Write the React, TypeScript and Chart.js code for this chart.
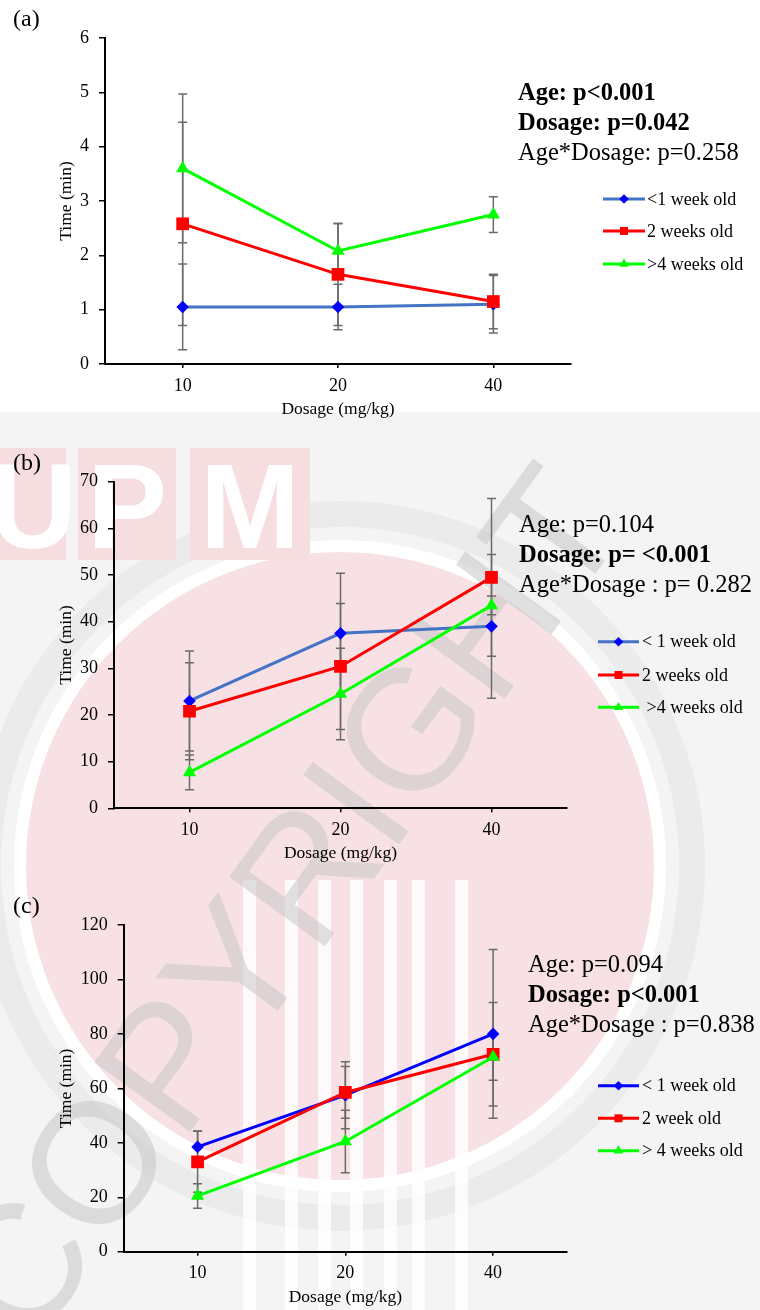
import React, { useEffect, useRef } from 'react';
import { Chart, registerables } from 'chart.js';

Chart.register(...registerables);

const FONT = "'Liberation Serif', 'Times New Roman', serif";

// ---------- data ----------
const dosageLabels = ['10', '20', '40'];

const labelsA = ['<1 week old', '2 weeks old', '>4 weeks old'];
const labelsB = ['< 1 week old', '2 weeks old', ' >4 weeks old'];
const labelsC = ['< 1 week old', '2 week old', '> 4 weeks old'];

// panel (a)
const aLt1 = [1.05, 1.05, 1.1];
const aLt1Err = [0.79, 0.42, 0.53];
const aW2 = [2.58, 1.65, 1.15];
const aW2Err = [1.87, 0.94, 0.5];
const aGt4 = [3.6, 2.08, 2.75];
const aGt4Err = [1.37, 0.5, 0.33];

// panel (b)
const bLt1 = [23, 37.5, 39];
const bLt1Err = [10.7, 12.9, 15.4];
const bW2 = [20.8, 30.4, 49.5];
const bW2Err = [10.4, 13.5, 16.9];
const bGt4 = [7.7, 24.5, 43.5];
const bGt4Err = [3.7, 9.8, 2];

// panel (c)
const cLt1 = [38.5, 57.5, 80];
const cLt1Err = [5.8, 12.3, 31];
const cW2 = [33, 58.5, 72.5];
const cW2Err = [11.2, 9.5, 19];
const cGt4 = [20.5, 40.5, 71.5];
const cGt4Err = [4.5, 11.5, 8.5];

const statsA = [
  { text: 'Age: p<0.001', bold: true },
  { text: 'Dosage: p=0.042', bold: true },
  { text: 'Age*Dosage: p=0.258', bold: false },
];
const statsB = [
  { text: 'Age: p=0.104', bold: false },
  { text: 'Dosage: p= <0.001', bold: true },
  { text: 'Age*Dosage : p= 0.282', bold: false },
];
const statsC = [
  { text: 'Age: p=0.094', bold: false },
  { text: 'Dosage: p<0.001', bold: true },
  { text: 'Age*Dosage : p=0.838', bold: false },
];

const watermarkText = 'COPYRIGHT';
const logoLetters = ['U', 'P', 'M'];

// ---------- plugins ----------
const errorBarPlugin = {
  id: 'errorBars',
  beforeDatasetsDraw(chart: any) {
    const ctx = chart.ctx;
    const yScale = chart.scales.y;
    ctx.save();
    ctx.strokeStyle = '#6b6b6b';
    ctx.lineWidth = 1.5;
    chart.data.datasets.forEach((ds: any, di: number) => {
      const meta = chart.getDatasetMeta(di);
      if (!ds.errorBars) return;
      meta.data.forEach((pt: any, i: number) => {
        const v = ds.data[i];
        const e = ds.errorBars[i];
        const x = pt.x;
        const yt = yScale.getPixelForValue(v + e);
        const yb = yScale.getPixelForValue(Math.max(0, v - e));
        ctx.beginPath();
        ctx.moveTo(x, yt);
        ctx.lineTo(x, yb);
        ctx.moveTo(x - 4.5, yt);
        ctx.lineTo(x + 4.5, yt);
        ctx.moveTo(x - 4.5, yb);
        ctx.lineTo(x + 4.5, yb);
        ctx.stroke();
      });
    });
    ctx.restore();
  },
};

function drawMarker(ctx: any, style: string, x: number, y: number, s: number, color: string) {
  ctx.fillStyle = color;
  ctx.beginPath();
  if (style === 'rect') {
    ctx.rect(x - s, y - s, 2 * s, 2 * s);
  } else if (style === 'rectRot') {
    ctx.moveTo(x, y - s * 1.2);
    ctx.lineTo(x + s * 1.2, y);
    ctx.lineTo(x, y + s * 1.2);
    ctx.lineTo(x - s * 1.2, y);
    ctx.closePath();
  } else {
    const r = s * 1.35;
    ctx.moveTo(x, y - r);
    ctx.lineTo(x + r * 0.866, y + r * 0.5);
    ctx.lineTo(x - r * 0.866, y + r * 0.5);
    ctx.closePath();
  }
  ctx.fill();
}

const legendPlugin = {
  id: 'lineLegend',
  afterDraw(chart: any, _args: any, opts: any) {
    const ctx = chart.ctx;
    ctx.save();
    ctx.font = `${opts.fontSize}px ${FONT}`;
    ctx.textBaseline = 'middle';
    ctx.textAlign = 'left';
    chart.data.datasets.forEach((ds: any, i: number) => {
      const y = opts.rows[i];
      ctx.strokeStyle = ds.borderColor;
      ctx.lineWidth = 3;
      ctx.beginPath();
      ctx.moveTo(opts.x0, y);
      ctx.lineTo(opts.x1, y);
      ctx.stroke();
      drawMarker(ctx, ds.pointStyle, (opts.x0 + opts.x1) / 2, y, 4, ds.pointBackgroundColor);
      ctx.fillStyle = '#000';
      ctx.fillText(ds.label, opts.textX, y + 1);
    });
    ctx.restore();
  },
};

// ---------- panel ----------
type PanelProps = {
  top: number;
  height: number;
  labels: string[];
  series: number[][];
  errors: number[][];
  blueLine: string;
  yMax: number;
  yStep: number;
  padTop: number;
  padBottom: number;
  left: number;
  right: number;
  legend: any;
};

function Panel(p: PanelProps) {
  const ref = useRef<HTMLCanvasElement | null>(null);
  useEffect(() => {
    if (!ref.current) return;
    const colors = [p.blueLine, '#ff0000', '#00ff00'];
    const pointColors = ['#0000ff', '#ff0000', '#00ff00'];
    const styles = ['rectRot', 'rect', 'triangle'];
    const radii = [6.3, 9, 7.6];
    const datasets = p.series.map((d, i) => ({
      label: p.labels[i],
      data: d,
      errorBars: p.errors[i],
      borderColor: colors[i],
      backgroundColor: pointColors[i],
      borderWidth: 3,
      pointStyle: styles[i],
      pointRadius: radii[i],
      pointBackgroundColor: pointColors[i],
      pointBorderColor: pointColors[i],
      pointBorderWidth: 0,
      tension: 0,
      fill: false,
      order: 2 - i,
    }));
    const tickFont = { family: FONT, size: 18 };
    const titleFont = { family: FONT, size: 17.5 };
    const chart = new Chart(ref.current, {
      type: 'line',
      data: { labels: dosageLabels, datasets },
      options: {
        animation: false,
        responsive: false,
        maintainAspectRatio: false,
        devicePixelRatio: 1,
        layout: { padding: { top: p.padTop, bottom: p.padBottom, left: 0, right: 760 - p.right } },
        plugins: {
          legend: { display: false },
          tooltip: { enabled: false },
          lineLegend: p.legend,
        } as any,
        scales: {
          x: {
            type: 'category',
            offset: true,
            grid: { display: true, drawOnChartArea: false, drawTicks: true, tickLength: 4, color: '#000', lineWidth: 1.5 },
            border: { display: true, color: '#000', width: 2 },
            ticks: { color: '#000', font: tickFont, padding: 7 },
            title: { display: true, text: 'Dosage (mg/kg)', color: '#000', font: titleFont, padding: 0 },
            afterFit: (s: any) => { s.height = 56; },
          },
          y: {
            min: 0,
            max: p.yMax,
            ticks: { stepSize: p.yStep, color: '#000', font: tickFont, padding: 10 },
            grid: { display: true, drawOnChartArea: false, drawTicks: true, tickLength: 6, color: '#000', lineWidth: 1.5 },
            border: { display: true, color: '#000', width: 2 },
            title: { display: true, text: 'Time (min)', color: '#000', font: titleFont, padding: { top: 56, bottom: 0 } },
            afterFit: (s: any) => { s.width = p.left; },
          },
        },
      } as any,
      plugins: [errorBarPlugin, legendPlugin],
    });
    return () => chart.destroy();
  }, []);
  return (
    <canvas
      ref={ref}
      width={760}
      height={p.height}
      style={{ position: 'absolute', left: 0, top: p.top, width: 760, height: p.height }}
    />
  );
}

function Stats({ lines, left, top }: { lines: { text: string; bold: boolean }[]; left: number; top: number }) {
  return (
    <div style={{ position: 'absolute', left, top, fontFamily: FONT, fontSize: 24.5, lineHeight: '30px', color: '#000', whiteSpace: 'nowrap' }}>
      {lines.map((l, i) => (
        <div key={i} style={{ fontWeight: l.bold ? 'bold' : 'normal' }}>{l.text}</div>
      ))}
    </div>
  );
}

function PanelLabel({ text, top }: { text: string; top: number }) {
  return (
    <div style={{ position: 'absolute', left: 13, top, fontFamily: FONT, fontSize: 24, lineHeight: '24px', color: '#000' }}>{text}</div>
  );
}

function Watermark() {
  const stripes = [243, 285, 318, 350, 384, 412, 455];
  return (
    <svg width={760} height={1310} style={{ position: 'absolute', left: 0, top: 0 }}>
      <rect x={0} y={412} width={760} height={898} fill="#f4f4f4" />
      <circle cx={340} cy={866} r={352} fill="none" stroke="#ebebeb" strokeWidth={26} />
      <circle cx={340} cy={866} r={326} fill="#ffffff" />
      <circle cx={340} cy={866} r={314} fill="#f7e1e4" />
      {stripes.map((x, i) => (
        <rect key={i} x={x} y={880} width={13} height={430} fill="#ffffff" opacity={0.8} />
      ))}
      {logoLetters.map((l, i) => (
        <g key={l}>
          <rect x={[0, 78, 190][i]} y={448} width={[66, 98, 120][i]} height={112} fill="#f5dde0" />
          <text x={[33, 127, 250][i]} y={548} textAnchor="middle" fontFamily="'Liberation Sans', Arial, sans-serif" fontWeight="bold" fontSize={120} fill="#ffffff">{l}</text>
        </g>
      ))}
      <text
        x={0}
        y={0}
        transform="translate(30 1352) rotate(-54)"
        fontFamily="'Liberation Sans', Arial, sans-serif"
        fontSize={172}
        fill="#c8c8c8"
        opacity={0.55}
      >
        {watermarkText}
      </text>
    </svg>
  );
}

export default function App() {
  return (
    <div style={{ position: 'absolute', left: 0, top: 0, width: 760, height: 1310, background: '#fff', overflow: 'hidden' }}>
      <Watermark />
      <Panel
        top={0}
        height={430}
        labels={labelsA}
        series={[aLt1, aW2, aGt4]}
        errors={[aLt1Err, aW2Err, aGt4Err]}
        blueLine="#4472c4"
        yMax={6}
        yStep={1}
        padTop={38}
        padBottom={10}
        left={105}
        right={571}
        legend={{ x0: 603, x1: 645, textX: 647, rows: [199, 231, 264], fontSize: 18 }}
      />
      <Panel
        top={430}
        height={440}
        labels={labelsB}
        series={[bLt1, bW2, bGt4]}
        errors={[bLt1Err, bW2Err, bGt4Err]}
        blueLine="#4472c4"
        yMax={70}
        yStep={10}
        padTop={51.7}
        padBottom={5.7}
        left={114}
        right={567}
        legend={{ x0: 598, x1: 639, textX: 642, rows: [211.7, 245, 277.3], fontSize: 18 }}
      />
      <Panel
        top={870}
        height={440}
        labels={labelsC}
        series={[cLt1, cW2, cGt4]}
        errors={[cLt1Err, cW2Err, cGt4Err]}
        blueLine="#0000ff"
        yMax={120}
        yStep={20}
        padTop={55}
        padBottom={2.3}
        left={123.7}
        right={567}
        legend={{ x0: 598, x1: 639, textX: 642, rows: [215.7, 248.3, 280.7], fontSize: 18 }}
      />
      <PanelLabel text="(a)" top={6} />
      <PanelLabel text="(b)" top={450} />
      <PanelLabel text="(c)" top={893} />
      <Stats lines={statsA} left={518} top={77} />
      <Stats lines={statsB} left={519} top={509} />
      <Stats lines={statsC} left={528} top={949} />
    </div>
  );
}
